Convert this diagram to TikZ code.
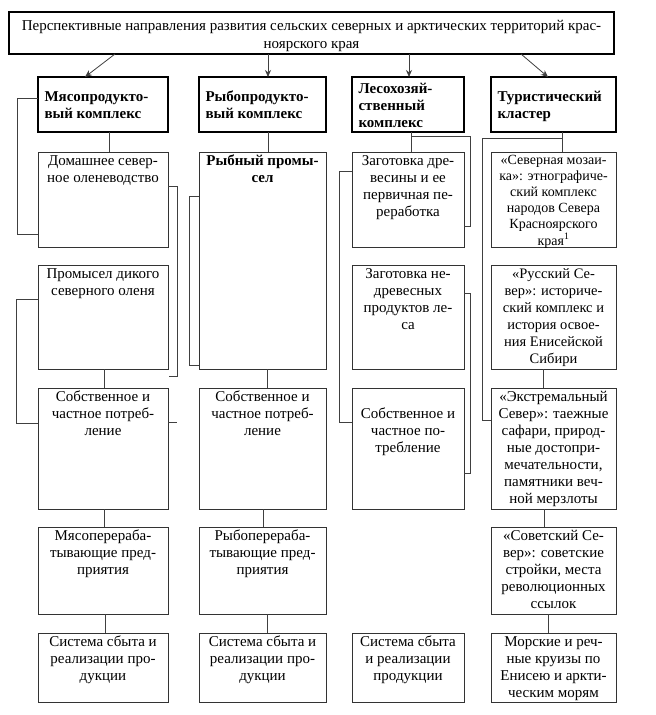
\documentclass[tikz,border=0pt]{standalone}
\usepackage{fontspec}
\setmainfont{Liberation Serif}
\usetikzlibrary{arrows.meta}

\tikzset{
  every node/.style={font=\fontsize{15}{17}\selectfont},
  thinbox/.style={draw=black!80, line width=0.8pt, inner sep=0pt, outer sep=0pt, anchor=north west},
  headbox/.style={draw=black, line width=2.5pt, inner sep=0pt, outer sep=0pt, anchor=north west},
  conn/.style={draw=black!75, line width=0.8pt},
  arr/.style={conn, -{Stealth[length=7pt,width=6pt]}},
}

% name, x, y, w, h, text
\newcommand\mkbox[6]{%
  \node[thinbox] (#1) at (#2,#3) {\parbox[c][#5pt][t]{#4pt}{\centering\vspace*{1.5pt}\begin{tabular}{@{}c@{}}#6\end{tabular}\par}};}
% name, x, y, w, h, font, text
\newcommand\mkboxf[7]{%
  \node[thinbox] (#1) at (#2,#3) {\parbox[c][#5pt][t]{#4pt}{\centering#6\vspace*{1.5pt}\begin{tabular}{@{}c@{}}#7\end{tabular}\par}};}
\newcommand\mkhead[6]{%
  \node[headbox] (#1) at (#2,#3) {\parbox[c][#5pt][c]{#4pt}{\vspace*{5pt}\bfseries\hspace*{6.5pt}\begin{tabular}{@{}l@{}}#6\end{tabular}\par}};}

\begin{document}
\begin{tikzpicture}[x=1pt,y=-1pt]
\fill[white] (0,0) rectangle (656,715);
\useasboundingbox (0,0) rectangle (656,715);

% top box
\node[headbox] (top) at (9,12) {\parbox[c][42pt][c]{605pt}{\vspace*{5pt}\centering\fontsize{15}{18}\selectfont\begin{tabular}{@{}c@{}}Перспективные направления развития сельских северных и арктических территорий крас-\\ноярского края\end{tabular}\par}};

% headers
\mkhead{h1}{38}{77}{130}{55}{Мясопродукто-\\вый комплекс}
\mkhead{h2}{199}{77}{127}{55}{Рыбопродукто-\\вый комплекс}
\mkhead{h3}{352}{77}{112}{55}{Лесохозяй-\\ственный\\комплекс}
\mkhead{h4}{491}{77}{125}{55}{Туристический\\кластер}

% column 1
\mkbox{a1}{38}{152}{130}{95}{Домашнее север-\\ное оленеводство}
\mkbox{a2}{38}{265}{130}{104}{Промысел дикого\\северного оленя}
\mkbox{a3}{38}{388}{130}{121}{Собственное и\\частное потреб-\\ление}
\mkbox{a4}{38}{527}{130}{87}{Мясоперераба-\\тывающие пред-\\приятия}
\mkbox{a5}{38}{633}{130}{69}{Система сбыта и\\реализации про-\\дукции}

% column 2
\mkboxf{b1}{199}{152}{127}{217}{\bfseries}{Рыбный промы-\\сел}
\mkbox{b2}{199}{388}{127}{121}{Собственное и\\частное потреб-\\ление}
\mkbox{b3}{199}{527}{127}{87}{Рыбоперераба-\\тывающие пред-\\приятия}
\mkbox{b4}{199}{633}{127}{69}{Система сбыта и\\реализации про-\\дукции}

% column 3
\mkbox{c1}{352}{152}{112}{95}{Заготовка дре-\\весины и ее\\первичная пе-\\реработка}
\mkbox{c2}{352}{265}{112}{104}{Заготовка не-\\древесных\\продуктов ле-\\са}
\mkbox{c3}{352}{388}{112}{121}{\\Собственное и\\частное по-\\требление}
\mkbox{c4}{352}{633}{112}{69}{Система сбыта\\и реализации\\продукции}

% column 4
\mkboxf{d1}{491}{152}{125}{95}{\fontsize{14}{16}\selectfont}{«Северная мозаи-\\ка»: этнографиче-\\ский комплекс\\народов Севера\\Красноярского\\края\textsuperscript{1}}
\mkboxf{d2}{491}{265}{125}{104}{\fontsize{14.5}{17}\selectfont}{«Русский Се-\\вер»: историче-\\ский комплекс и\\история освое-\\ния Енисейской\\Сибири}
\mkbox{d3}{491}{388}{125}{121}{«Экстремальный\\Север»: таежные\\сафари, природ-\\ные достопри-\\мечательности,\\памятники веч-\\ной мерзлоты}
\mkbox{d4}{491}{527}{125}{87}{«Советский Се-\\вер»: советские\\стройки, места\\революционных\\ссылок}
\mkbox{d5}{491}{633}{125}{69}{Морские и реч-\\ные круизы по\\Енисею и аркти-\\ческим морям}

% arrows from the top box
\draw[arr] ([xshift=106pt]top.south west) -- ([xshift=47pt]h1.north west);
\draw[arr] ([xshift=259pt]top.south west) -- ([xshift=69pt]h2.north west);
\draw[arr] ([xshift=400pt]top.south west) -- ([xshift=57pt]h3.north west);
\draw[arr] ([xshift=512pt]top.south west) -- ([xshift=57pt]h4.north west);

% vertical connectors
\draw[conn] ([xshift=71pt]h1.south west) -- ([xshift=71pt]a1.north west);
\draw[conn] ([xshift=66pt]a2.south west) -- ([xshift=66pt]a3.north west);
\draw[conn] ([xshift=66pt]a3.south west) -- ([xshift=66pt]a4.north west);
\draw[conn] ([xshift=67pt]a4.south west) -- ([xshift=67pt]a5.north west);

\draw[conn] ([xshift=69pt]h2.south west) -- ([xshift=69pt]b1.north west);
\draw[conn] ([xshift=68pt]b1.south west) -- ([xshift=68pt]b2.north west);
\draw[conn] ([xshift=64pt]b2.south west) -- ([xshift=64pt]b3.north west);
\draw[conn] ([xshift=68pt]b3.south west) -- ([xshift=68pt]b4.north west);

\draw[conn] ([xshift=59pt]h3.south west) -- ([xshift=59pt]c1.north west);

\draw[conn] ([xshift=71pt]h4.south west) -- ([xshift=71pt]d1.north west);
\draw[conn] ([xshift=52pt]d2.south west) -- ([xshift=52pt]d3.north west);
\draw[conn] ([xshift=53pt]d3.south west) -- ([xshift=53pt]d4.north west);
\draw[conn] ([xshift=57pt]d4.south west) -- ([xshift=57pt]d5.north west);

% brackets
\coordinate (e3) at ([yshift=-7pt]a2.south east);
\draw[conn] ([yshift=-21pt]h1.north west) -- ++(-21,0) |- ([yshift=13pt]a1.south west);
\draw[conn] ([yshift=-34pt]a2.north west) -- ++(-22,0) |- ([yshift=-35pt]a3.north west);
\draw[conn] ([yshift=-34pt]a1.north east) -- ++(9,0) |- ([xshift=1pt]e3);
\draw[conn] ([yshift=-34pt]a3.north east) -- ++(9,0);
\draw[conn] ([yshift=-44pt]b1.north west) -- ++(-10,0) |- ([yshift=4pt]b1.south west);
\draw[conn] ([xshift=60pt,yshift=-4pt]h3.south west) -- ++(58,0) |- ([yshift=21pt]c1.south east);
\draw[conn] ([yshift=-19pt]c1.north west) -- ++(-13,0) |- ([yshift=-34pt]c3.north west);
\draw[conn] ([yshift=-28pt]c2.north east) -- ++(6,0) |- ([yshift=36pt]c3.south east);
\draw[conn] ([xshift=71pt,yshift=-6pt]h4.south west) -- ++(-80,0) |- ([yshift=-32pt]d3.north west);
\end{tikzpicture}
\end{document}
